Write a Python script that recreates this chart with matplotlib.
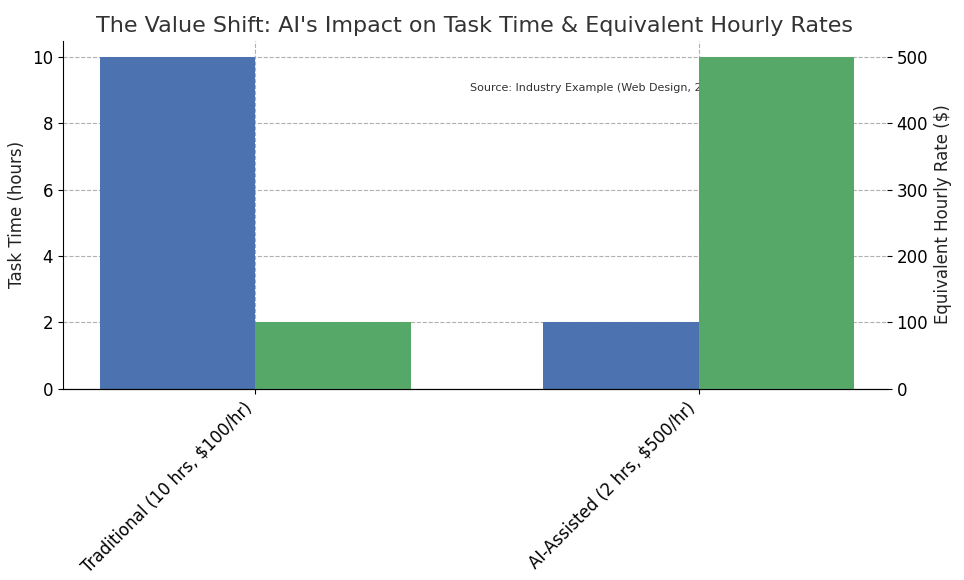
import numpy as np
import matplotlib.pyplot as plt

categories = ['Traditional (10 hrs, $100/hr)', 'AI-Assisted (2 hrs, $500/hr)']
task_hours = [10, 2]
hourly_rates = [100, 500]

blue = '#4c72b0'
green = '#55a868'
width = 0.35
x = np.arange(len(categories))

fig, ax1 = plt.subplots(figsize=(9.64, 5.8), dpi=100)
ax2 = ax1.twinx()

ax1.bar(x - width, task_hours, width, align='edge', color=blue, zorder=2)
ax2.bar(x, hourly_rates, width, align='edge', color=green, zorder=2)

ax1.set_ylim(0, 10.5)
ax2.set_ylim(0, 525)
ax1.set_xlim(-0.435, 1.425)
ax1.set_xticks(x)
ax1.set_xticklabels(categories, rotation=45, ha='right', fontsize=12)
ax1.set_ylabel('Task Time (hours)', fontsize=12, color='#222222')
ax2.set_ylabel('Equivalent Hourly Rate ($)', fontsize=12, color='#222222')
ax1.tick_params(axis='y', labelsize=12)
ax2.tick_params(axis='y', labelsize=12)

ax1.grid(True, linestyle='--', color='#b0b0b0', linewidth=0.8, zorder=0)
ax1.set_axisbelow(True)
for a in (ax1, ax2):
    a.spines['top'].set_visible(False)
    a.spines['right'].set_visible(False)
ax2.spines['left'].set_visible(False)

ax1.set_title("The Value Shift: AI's Impact on Task Time & Equivalent Hourly Rates",
              fontsize=16, color='#333333')
ax1.text(0.65, 0.865, 'Source: Industry Example (Web Design, 2024)', transform=ax1.transAxes,
         ha='center', va='center', fontsize=8, color='#333333')

fig.subplots_adjust(left=0.065, right=0.92, top=0.93, bottom=0.33)
fig.savefig('out.png', dpi=100)
